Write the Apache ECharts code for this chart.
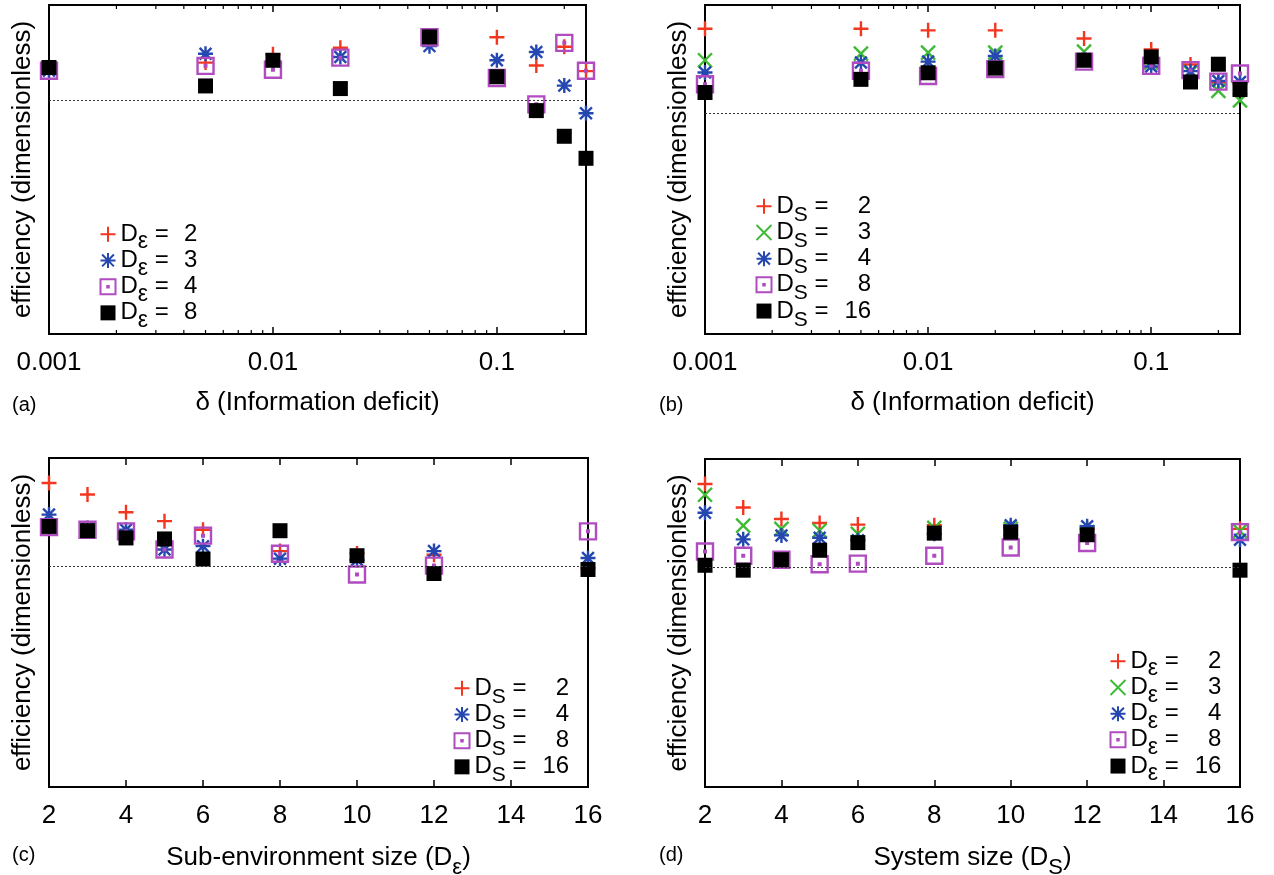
<!DOCTYPE html>
<html>
<head>
<meta charset="utf-8">
<script src="https://cdn.jsdelivr.net/npm/echarts@6/dist/echarts.min.js"></script>
<style>
html,body{margin:0;padding:0;background:#fff;}
#chart{width:1274px;height:875px;}
</style>
</head>
<body>
<div id="chart"></div>
<script>
// ---------- data ----------
const deltaValues = [0.001, 0.005, 0.01, 0.02, 0.05, 0.1, 0.15, 0.2, 0.25];
const sizeValues = [2, 3, 4, 5, 6, 8, 10, 12, 16];
const deltaTickLabels = ['0.001', '0.01', '0.1'];
const sizeTickLabels = ['2', '4', '6', '8', '10', '12', '14', '16'];
const deltaMinorTicks = [0.002,0.003,0.004,0.005,0.006,0.007,0.008,0.009,
                         0.02,0.03,0.04,0.05,0.06,0.07,0.08,0.09,0.2];

// panel (a): efficiency vs delta, by sub-environment size
const aDe2 = [0.805, 0.825, 0.850, 0.870, 0.895, 0.902, 0.816, 0.873, 0.799];
const aDe3 = [0.800, 0.852, 0.830, 0.842, 0.875, 0.832, 0.857, 0.755, 0.671];
const aDe4 = [0.800, 0.815, 0.803, 0.840, 0.902, 0.778, 0.698, 0.885, 0.800];
const aDe8 = [0.810, 0.754, 0.832, 0.746, 0.903, 0.782, 0.679, 0.601, 0.534];
const aRef = 0.712;

// panel (b): efficiency vs delta, by system size
const bDs2  = [0.928, 0.928, 0.923, 0.923, 0.898, 0.865, 0.819, 0.764, 0.760];
const bDs3  = [0.832, 0.852, 0.855, 0.855, 0.858, 0.825, 0.795, 0.739, 0.710];
const bDs4  = [0.795, 0.825, 0.828, 0.845, 0.835, 0.813, 0.799, 0.769, 0.766];
const bDs8  = [0.759, 0.800, 0.784, 0.805, 0.828, 0.815, 0.802, 0.767, 0.792];
const bDs16 = [0.734, 0.774, 0.794, 0.808, 0.832, 0.842, 0.766, 0.820, 0.743];
const bRef = 0.666;

// panel (c): efficiency vs sub-environment size, by system size
const cDs2  = [0.924, 0.889, 0.835, 0.808, 0.782, 0.717, 0.710, 0.706, 0.665];
const cDs4  = [0.828, 0.787, 0.782, 0.722, 0.732, 0.694, 0.690, 0.717, 0.696];
const cDs8  = [0.790, 0.782, 0.777, 0.722, 0.764, 0.709, 0.646, 0.673, 0.777];
const cDs16 = [0.792, 0.779, 0.757, 0.754, 0.693, 0.779, 0.703, 0.649, 0.661];
const cRef = 0.666;

// panel (d): efficiency vs system size, by sub-environment size
const dDe2  = [0.924, 0.852, 0.817, 0.805, 0.800, 0.798, 0.790, 0.787, 0.787];
const dDe3  = [0.891, 0.797, 0.787, 0.782, 0.772, 0.790, 0.787, 0.777, 0.780];
const dDe4  = [0.836, 0.755, 0.767, 0.760, 0.752, 0.772, 0.798, 0.795, 0.754];
const dDe8  = [0.718, 0.705, 0.693, 0.679, 0.681, 0.705, 0.730, 0.744, 0.777];
const dDe16 = [0.676, 0.661, 0.693, 0.722, 0.745, 0.774, 0.777, 0.769, 0.661];
const dRef = 0.666;

const Y_MIN = 0, Y_MAX = 1;

// ---------- styles ----------
const FONT = '"Liberation Sans", Arial, Helvetica, sans-serif';
const STY = {
  plus:  {symbol: 'path://M0,7L14,7M7,0L7,14', size: 15, color: '#f2361f', stroke: true},
  cross: {symbol: 'path://M0,0L14,14M0,14L14,0', size: 14, color: '#3fba35', stroke: true},
  star:  {symbol: 'path://M0,7L14,7M7,0L7,14M1.5,1.5L12.5,12.5M1.5,12.5L12.5,1.5', size: 15, color: '#2447b0', stroke: true},
  box:   {symbol: 'path://M1,1L13,1L13,13L1,13ZM6.4,6.4L7.6,6.4L7.6,7.6L6.4,7.6Z', size: 16, color: '#b04cc0', stroke: true},
  fill:  {symbol: 'rect', size: 15, color: '#000000', stroke: false}
};

const grids = [
  {left: 49,  top: 5,   width: 537, height: 329},
  {left: 705, top: 5,   width: 535, height: 329},
  {left: 49,  top: 458, width: 539, height: 329},
  {left: 705, top: 459, width: 535, height: 328}
];

function labelFrom(arr) {
  return function (v) {
    const hit = arr.find(s => Math.abs(Math.log10(parseFloat(s)) - Math.log10(v)) < 1e-6);
    return hit === undefined ? '' : hit;
  };
}

const richName = {
  t: {fontSize: 26, fontFamily: FONT, color: '#000', lineHeight: 30},
  s: {fontSize: 22, fontFamily: FONT, color: '#000', lineHeight: 30, verticalAlign: 'top', padding: [14, 0, 0, 0]}
};

function xAxesFor(g, isLog, name) {
  const base = isLog
    ? {type: 'log', logBase: 10, min: 0.001, max: 0.25}
    : {type: 'value', min: 2, max: 16, interval: 2};
  const tickLabels = isLog ? deltaTickLabels : sizeTickLabels;
  return [
    Object.assign({}, base, {
      gridIndex: g, position: 'bottom',
      axisLine: {show: false},
      axisTick: {show: true, inside: true, length: 7, lineStyle: {color: '#000', width: 1.5}},
      axisLabel: {show: true, fontSize: 26, fontFamily: FONT, color: '#000', margin: 16,
                  formatter: labelFrom(tickLabels), showMaxLabel: !isLog},
      splitLine: {show: false},
      name: name, nameLocation: 'middle', nameGap: 56,
      nameTextStyle: {fontSize: 26, fontFamily: FONT, color: '#000', rich: richName}
    }),
    Object.assign({}, base, {
      gridIndex: g, position: 'top',
      axisLine: {show: false},
      axisTick: {show: true, inside: true, length: 7, lineStyle: {color: '#000', width: 1.5}},
      axisLabel: {show: false},
      splitLine: {show: false}
    })
  ];
}

function yAxisFor(g) {
  return {
    type: 'value', gridIndex: g, min: Y_MIN, max: Y_MAX,
    axisLine: {show: false}, axisTick: {show: false}, axisLabel: {show: false}, splitLine: {show: false},
    name: 'efficiency (dimensionless)', nameLocation: 'middle', nameRotate: 90, nameGap: 13,
    nameTextStyle: {fontSize: 26, fontFamily: FONT, color: '#000'}
  };
}

function scatter(id, values, xs, sty, g, ref) {
  const s = {
    type: 'scatter', name: id, xAxisIndex: g * 2, yAxisIndex: g,
    data: xs.map((x, i) => [x, values[i]]),
    symbol: sty.symbol, symbolSize: sty.size, clip: false,
    itemStyle: sty.stroke
      ? {color: 'rgba(0,0,0,0)', borderColor: sty.color, borderWidth: 2.4, opacity: 1}
      : {color: sty.color, borderWidth: 0, opacity: 1},
    emphasis: {disabled: true}
  };
  if (ref !== undefined) {
    s.markLine = {
      silent: true, symbol: ['none', 'none'], label: {show: false},
      lineStyle: {type: [2, 2], color: '#333', width: 1.2, opacity: 1},
      emphasis: {disabled: true},
      data: [{yAxis: ref}]
    };
  }
  return s;
}

function minorTicks(g) {
  return {
    type: 'custom', xAxisIndex: g * 2, yAxisIndex: g, silent: true, z: 5,
    data: deltaMinorTicks.map(v => [v, Y_MIN]),
    renderItem: function (params, api) {
      const x = api.value(0);
      const b = api.coord([x, Y_MIN]);
      const t = api.coord([x, Y_MAX]);
      return {type: 'group', children: [
        {type: 'line', shape: {x1: b[0], y1: b[1], x2: b[0], y2: b[1] - 4}, style: {stroke: '#000', lineWidth: 1.2}},
        {type: 'line', shape: {x1: t[0], y1: t[1], x2: t[0], y2: t[1] + 4}, style: {stroke: '#000', lineWidth: 1.2}}
      ]};
    }
  };
}

// legend entries
const legendText = {
  'a2': '{t|D}{e|ε}{t| = }{m|2}', 'a3': '{t|D}{e|ε}{t| = }{m|3}', 'a4': '{t|D}{e|ε}{t| = }{m|4}', 'a8': '{t|D}{e|ε}{t| = }{m|8}',
  'b2': '{t|D}{s|S}{t| = }{n|2}', 'b3': '{t|D}{s|S}{t| = }{n|3}', 'b4': '{t|D}{s|S}{t| = }{n|4}', 'b8': '{t|D}{s|S}{t| = }{n|8}', 'b16': '{t|D}{s|S}{t| = }{n|16}',
  'c2': '{t|D}{s|S}{t| = }{n|2}', 'c4': '{t|D}{s|S}{t| = }{n|4}', 'c8': '{t|D}{s|S}{t| = }{n|8}', 'c16': '{t|D}{s|S}{t| = }{n|16}',
  'd2': '{t|D}{e|ε}{t| = }{n|2}', 'd3': '{t|D}{e|ε}{t| = }{n|3}', 'd4': '{t|D}{e|ε}{t| = }{n|4}', 'd8': '{t|D}{e|ε}{t| = }{n|8}', 'd16': '{t|D}{e|ε}{t| = }{n|16}'
};
const richLegend = {
  t: {fontSize: 24, fontFamily: FONT, color: '#000', lineHeight: 26.5},
  s: {fontSize: 21, fontFamily: FONT, color: '#000', lineHeight: 26.5, height: 8, verticalAlign: 'top', padding: [18, 0, 0, 0]},
  e: {fontSize: 23, fontFamily: FONT, color: '#000', lineHeight: 26.5, height: 8, verticalAlign: 'top', padding: [17, 0, 0, 0]},
  n: {fontSize: 24, fontFamily: FONT, color: '#000', lineHeight: 26.5, width: 36, align: 'right'},
  m: {fontSize: 24, fontFamily: FONT, color: '#000', lineHeight: 26.5, width: 22, align: 'right'}
};
function legendAt(names, left, top) {
  return {
    data: names, left: left, top: top, orient: 'vertical', padding: 0, itemGap: -6.3,
    itemWidth: 15, itemHeight: 15, selectedMode: false,
    formatter: n => legendText[n],
    textStyle: {fontSize: 24, fontFamily: FONT, color: '#000', rich: richLegend}
  };
}

const option = {
  animation: false,
  backgroundColor: '#ffffff',
  grid: grids.map(g => Object.assign({show: true, borderColor: '#000', borderWidth: 2, backgroundColor: 'transparent', outerBoundsMode: 'none', containLabel: false}, g)),
  title: [
    {text: '(a)', left: 12, top: 395},
    {text: '(b)', left: 659, top: 395},
    {text: '(c)', left: 12, top: 845},
    {text: '(d)', left: 659, top: 845}
  ].map(t => Object.assign(t, {padding: 0, textStyle: {fontSize: 20, fontWeight: 'normal', fontFamily: FONT, color: '#000'}})),
  xAxis: [].concat(
    xAxesFor(0, true, 'δ (Information deficit)'),
    xAxesFor(1, true, 'δ (Information deficit)'),
    xAxesFor(2, false, '{t|Sub-environment size (D}{s|ε}{t|)}'),
    xAxesFor(3, false, '{t|System size (D}{s|S}{t|)}')
  ),
  yAxis: [yAxisFor(0), yAxisFor(1), yAxisFor(2), yAxisFor(3)],
  legend: [
    legendAt(['a2', 'a3', 'a4', 'a8'], 99.5, 221),
    legendAt(['b2', 'b3', 'b4', 'b8', 'b16'], 755.5, 193),
    legendAt(['c2', 'c4', 'c8', 'c16'], 453.5, 675),
    legendAt(['d2', 'd3', 'd4', 'd8', 'd16'], 1109.5, 648)
  ],
  series: [
    minorTicks(0), minorTicks(1),
    scatter('a2', aDe2, deltaValues, STY.plus, 0, aRef),
    scatter('a3', aDe3, deltaValues, STY.star, 0),
    scatter('a4', aDe4, deltaValues, STY.box, 0),
    scatter('a8', aDe8, deltaValues, STY.fill, 0),

    scatter('b2', bDs2, deltaValues, STY.plus, 1, bRef),
    scatter('b3', bDs3, deltaValues, STY.cross, 1),
    scatter('b4', bDs4, deltaValues, STY.star, 1),
    scatter('b8', bDs8, deltaValues, STY.box, 1),
    scatter('b16', bDs16, deltaValues, STY.fill, 1),

    scatter('c2', cDs2, sizeValues, STY.plus, 2, cRef),
    scatter('c4', cDs4, sizeValues, STY.star, 2),
    scatter('c8', cDs8, sizeValues, STY.box, 2),
    scatter('c16', cDs16, sizeValues, STY.fill, 2),

    scatter('d2', dDe2, sizeValues, STY.plus, 3, dRef),
    scatter('d3', dDe3, sizeValues, STY.cross, 3),
    scatter('d4', dDe4, sizeValues, STY.star, 3),
    scatter('d8', dDe8, sizeValues, STY.box, 3),
    scatter('d16', dDe16, sizeValues, STY.fill, 3)
  ]
};

const chart = echarts.init(document.getElementById('chart'), null, {renderer: 'canvas'});
chart.setOption(option);
</script>
</body>
</html>
